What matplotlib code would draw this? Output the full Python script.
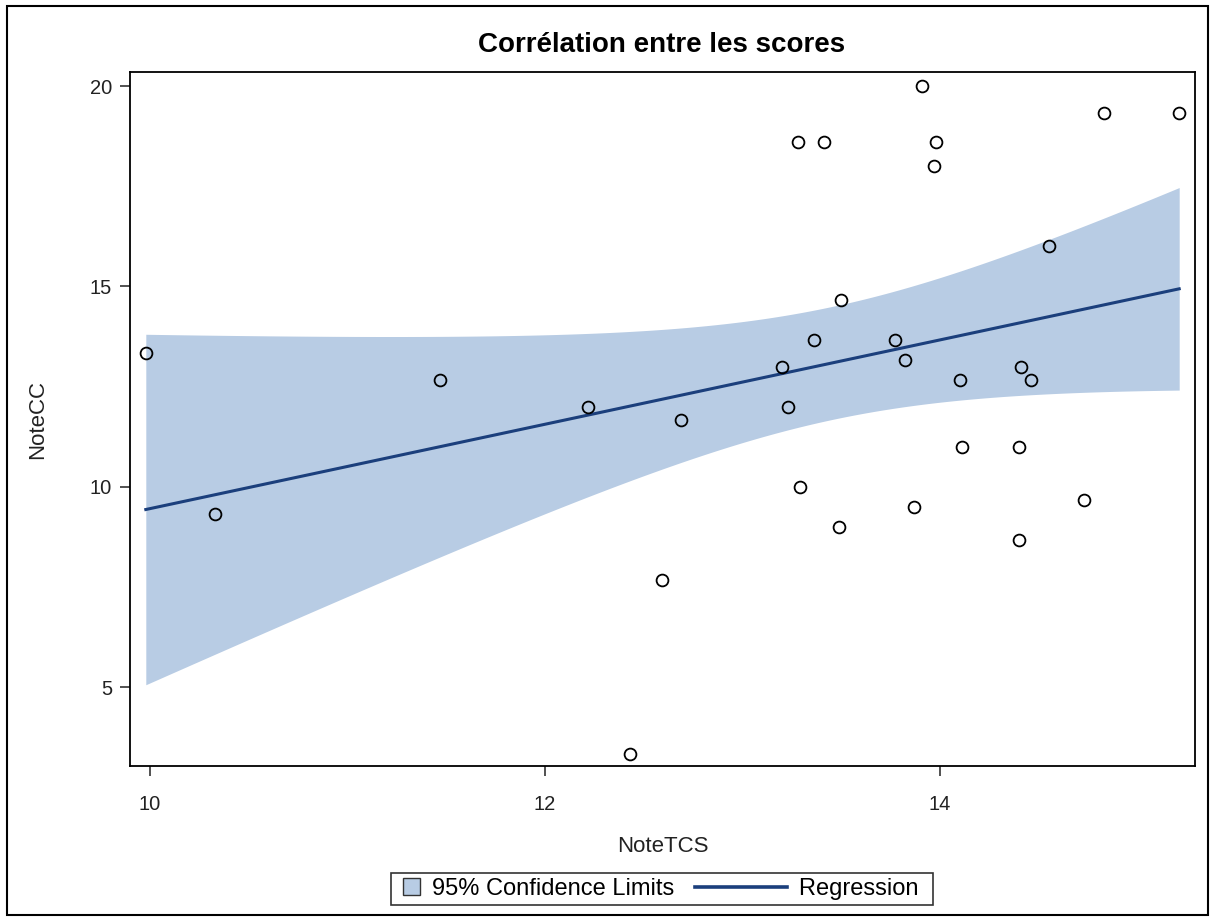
import matplotlib.pyplot as plt
import numpy as np
from matplotlib.patches import Rectangle, Patch
from matplotlib.lines import Line2D
from matplotlib.legend_handler import HandlerPatch, HandlerLine2D

plt.rcParams["font.family"] = ["Liberation Sans", "DejaVu Sans"]

# data
note_tcs = [9.98, 10.33, 11.47, 12.22, 12.43, 12.59, 12.69, 13.20, 13.23, 13.28,
            13.29, 13.36, 13.41, 13.49, 13.50, 13.77, 13.82, 13.87, 13.91, 13.97,
            13.98, 14.10, 14.11, 14.40, 14.40, 14.41, 14.46, 14.55, 14.73, 14.83,
            15.21]
note_cc = [13.33, 9.33, 12.67, 12.00, 3.33, 7.67, 11.67, 13.00, 12.00, 18.60,
           10.00, 13.67, 18.60, 9.00, 14.67, 13.67, 13.17, 9.50, 20.00, 18.00,
           18.60, 12.67, 11.00, 11.00, 8.67, 13.00, 12.67, 16.00, 9.67, 19.33,
           19.33]
x_ticks = [10, 12, 14]
y_ticks = [5, 10, 15, 20]

BAND = "#B8CCE4"
LINE = "#1B3F7C"
LEG_FS = 17


class SquareHandler(HandlerPatch):
    """small square at the right end of the handle box"""
    def create_artists(self, legend, orig_handle, xdescent, ydescent,
                       width, height, fontsize, trans):
        size = height * 1.0
        p = Rectangle((width - xdescent - size, -ydescent + (height - size) / 2), size, size)
        self.update_prop(p, orig_handle, legend)
        p.set_transform(trans)
        return [p]


class LongLineHandler(HandlerLine2D):
    """line that reaches back into the column gap, so it is longer than the square"""
    def create_artists(self, legend, orig_handle, xdescent, ydescent,
                       width, height, fontsize, trans):
        length = 3.9 * fontsize
        ym = height / 2 - ydescent
        ln = Line2D([width - xdescent - length, width - xdescent], [ym, ym])
        self.update_prop(ln, orig_handle, legend)
        ln.set_transform(trans)
        return [ln]


x = np.array(note_tcs)
y = np.array(note_cc)
n = len(x)

# ordinary least squares fit + 95% confidence limits for the mean
slope, intercept = np.polyfit(x, y, 1)
resid = y - (intercept + slope * x)
s = np.sqrt(np.sum(resid ** 2) / (n - 2))
sxx = np.sum((x - x.mean()) ** 2)
t_crit = 2.045  # t(0.975, df=29)
xs = np.linspace(x.min(), x.max(), 300)
fit = intercept + slope * xs
half = t_crit * s * np.sqrt(1 / n + (xs - x.mean()) ** 2 / sxx)

fig = plt.figure(figsize=(12.15, 9.22), dpi=100)
ax = fig.add_axes([130 / 1215, 1 - 766 / 922, 1065 / 1215, 694 / 922])

ax.fill_between(xs, fit - half, fit + half, color=BAND, linewidth=0, zorder=1)
ax.plot(xs, fit, color=LINE, linewidth=2.2, zorder=2)
ax.plot(x, y, linestyle="none", marker="o", markersize=8.5,
        markerfacecolor="none", markeredgecolor="black", markeredgewidth=1.3, zorder=3)

ax.set_xlim(9.90, 15.29)
ax.set_ylim(3.04, 20.35)
ax.set_xticks(x_ticks)
ax.set_yticks(y_ticks)
ax.tick_params(direction="out", length=7, width=1.1, labelsize=14.5, colors="#222222")
ax.tick_params(axis="x", pad=14)
ax.tick_params(axis="y", pad=6)
for sp in ax.spines.values():
    sp.set_linewidth(1.3)

ax.set_xlabel("NoteTCS", fontsize=16, labelpad=16, color="#222222")
ax.set_ylabel("NoteCC", fontsize=16, labelpad=30, color="#222222")
fig.text(662 / 1215, 1 - 45 / 922, "Corrélation entre les scores",
         ha="center", va="center", fontsize=20, fontweight="bold")

handles = [Patch(facecolor=BAND, edgecolor="#333333", linewidth=1.0),
           Line2D([], [], color=LINE, linewidth=2.6)]
leg = fig.legend(handles, ["95% Confidence Limits", "Regression\u2009\u2009"], loc="center",
                 bbox_to_anchor=(662 / 1215, 1 - 889 / 922), ncol=2, fontsize=LEG_FS,
                 frameon=True, fancybox=False, edgecolor="black", handlelength=1.0,
                 columnspacing=3.8, handletextpad=0.5, borderpad=0.2,
                 handleheight=0.7,
                 handler_map={Patch: SquareHandler(), Line2D: LongLineHandler()})
leg.get_frame().set_linewidth(1.2)

# outer border around the whole graph
fig.patches.append(Rectangle((7 / 1215, 7 / 922), 1201 / 1215, 909 / 922,
                             transform=fig.transFigure, fill=False,
                             edgecolor="black", linewidth=1.5))

fig.savefig("out.png", dpi=100)
